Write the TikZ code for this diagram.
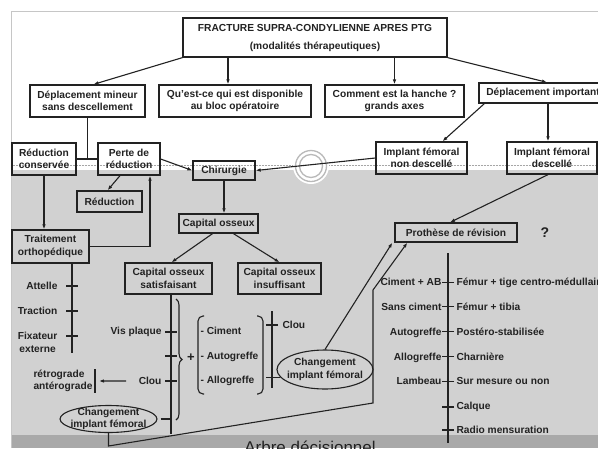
\documentclass[tikz,border=0pt]{standalone}
\usepackage{fontspec}
\setmainfont{Liberation Sans}
\usetikzlibrary{arrows.meta, shapes.geometric, decorations.pathreplacing}
\definecolor{ink}{HTML}{222222}
\definecolor{panel}{HTML}{D1D1D1}
\definecolor{band}{HTML}{A9A9A9}
\newcommand{\boxfont}{\fontsize{10.2}{12.4}\selectfont\bfseries}

\begin{document}
\begin{tikzpicture}[x=1pt, y=-1pt, line width=1.1pt, color=ink, >={Latex[length=5pt,width=3.6pt]},
	box/.style = {draw, line width=1.3pt, inner sep=0pt, align=center, font=\boxfont},
	oval/.style = {draw, ellipse, inner xsep=-6pt, inner ysep=-3pt, align=center, font=\boxfont},
	lab/.style = {inner sep=0pt, font=\boxfont}]
		\useasboundingbox (0,0) rectangle (598,448);
		% background
		\fill[white] (0,0) rectangle (598,448);
		\fill[panel] (11,170) rectangle (598,435);
		\fill[band] (11,435) rectangle (598,448);
		\draw[gray!45, line width=0.6pt] (11,448) -- (11,11) -- (598,11);
		\draw[gray!70, line width=0.5pt, densely dotted] (11,165) -- (598,165);
		\fill[white] (311,166) circle (18);
		\draw[gray!55, line width=1.3pt] (311,166) circle (15.5) (311,166) circle (11.5);
		\node[anchor=base, font=\fontsize{17}{17}\selectfont] (40) at (310,453) {Arbre décisionnel};
		
		% boxes
		\node[box, minimum width=264, minimum height=39] (1) at (315,37.5) {FRACTURE SUPRA-CONDYLIENNE APRES PTG\\[5.6pt](modalités thérapeutiques)};
		\node[box, minimum width=115, minimum height=32] (2) at (87.5,101) {Déplacement mineur\\sans descellement};
		\node[box, minimum width=152, minimum height=32] (3) at (235,101) {Qu'est-ce qui est disponible\\au bloc opératoire};
		\node[box, minimum width=139, minimum height=32] (4) at (394.5,101) {Comment est la hanche ?\\grands axes};
		\node[box, minimum width=128, minimum height=20] (5) at (543,93) {Déplacement important};
		\node[box, minimum width=64, minimum height=32] (6) at (44,159) {Réduction\\conservée};
		\node[box, minimum width=62, minimum height=32] (7) at (129,159) {Perte de\\réduction};
		\node[box, minimum width=65, minimum height=21] (8) at (109.5,201.5) {Réduction};
		\node[box, minimum width=62, minimum height=19] (9) at (224,170.5) {Chirurgie};
		\node[box, minimum width=91, minimum height=32] (10) at (421.5,158) {Implant fémoral\\non descellé};
		\node[box, minimum width=90, minimum height=32] (11) at (552,158) {Implant fémoral\\descellé};
		\node[box, minimum width=77, minimum height=33] (12) at (50.5,246.5) {Traitement\\orthopédique};
		\node[box, minimum width=79, minimum height=19] (13) at (218.5,223.5) {Capital osseux};
		\node[box, minimum width=87, minimum height=31] (14) at (168.5,278.5) {Capital osseux\\satisfaisant};
		\node[box, minimum width=83, minimum height=31] (15) at (279.5,278.5) {Capital osseux\\insuffisant};
		\node[box, minimum width=122, minimum height=19] (16) at (456,232.5) {Prothèse de révision};
		\node[font=\fontsize{14}{14}\selectfont\bfseries] (17) at (545,233) {?};
		\node[oval, minimum width=97, minimum height=27] (18) at (108.5,419) {Changement\\implant fémoral};
		\node[oval, minimum width=96, minimum height=39] (19) at (325,369.5) {Changement\\implant fémoral};
		
		\draw[->] (1.south west) -- ([xshift=6pt]2.north);
		\draw[->] ([xshift=-7pt]3.north |- 1.south) -- ([xshift=-7pt]3.north);
		\draw[->] (4.north |- 1.south) -- (4.north);
		\draw[->] (1.south east) -- ([xshift=4pt]5.north);
		\draw (2.south) -- (2.south |- 6.east);
		\draw (6.east) -- (7.west);
		\draw[->] (6.south) -- (6.south |- 12.north);
		\draw[->] (12.east) -| ([xshift=21pt]7.south);
		\draw[->] ([xshift=-9pt]7.south) -- ([xshift=-2pt]8.north);
		\draw[->] (7.east) -- (9.west);
		\draw[->] (10.west) -- (9.east);
		\draw[->] ([xshift=6pt]5.south west) -- ([xshift=21pt]10.north);
		\draw[->] ([xshift=-4pt]11.north |- 5.south) -- ([xshift=-4pt]11.north);
		\draw[->] ([xshift=-4pt]11.south) -- ([xshift=-6pt]16.north);
		\draw[->] (9.south) -- (9.south |- 13.north);
		\draw[->] ([xshift=-6pt]13.south) -- ([xshift=3pt]14.north);
		\draw[->] ([xshift=15pt]13.south) -- (15.north);
		
		% left scale
		\coordinate (a1) at (72,353);
		\draw (12.south -| a1) -- (a1);
		\node[lab, anchor=base east] (20) at (58,289.6) {Attelle};
		\node[lab, anchor=base east] (21) at (58,314.6) {Traction};
		\node[lab, anchor=east, align=center] (22) at (58,342.2) {Fixateur\\externe};
		\draw ([xshift=8pt]20.east) -- ++(12,0);
		\draw ([xshift=8pt]21.east) -- ++(12,0);
		\draw (66,336) -- (78,336);
		
		% middle scale
		\coordinate (m) at (171,434);
		\draw (14.south -| m) -- (m);
		\node[lab, anchor=base east] (23) at (162,334.6) {Vis plaque};
		\node[lab, anchor=base east] (24) at (162,384.6) {Clou};
		\draw ([xshift=3pt]23.east) -- ++(12,0);
		\draw (165,356) -- (177,356);
		\draw ([xshift=3pt]24.east) -- ++(12,0);
		\node[lab, anchor=east, align=left] (25) at (93,381) {rétrograde\\antérograde};
		\draw ([xshift=2pt]25.north east) -- ([xshift=2pt]25.south east);
		\draw[->] ([xshift=-12pt]24.west) -- ([xshift=6pt]25.east);
		\draw ([xshift=3pt]18.east) -- (18.east -| m);
		\draw[decorate, decoration={brace, amplitude=6pt}] (176,299) -- (176,420);
		\node[font=\fontsize{13}{13}\selectfont\bfseries] (26) at (191,358) {+};
		\draw[rounded corners=5pt] (204,316) -- (198,316) -- (198,394) -- (204,394);
		\draw[rounded corners=5pt] (257,316) -- (263,316) -- (263,394) -- (257,394);
		\node[lab, anchor=base west] (27) at (200,334.6) {- Ciment};
		\node[lab, anchor=base west] (28) at (200,359.6) {- Autogreffe};
		\node[lab, anchor=base west] (29) at (200,383.6) {- Allogreffe};
		\coordinate (c1) at (272,311);
		\coordinate (c2) at (272,388);
		\draw (c1) -- (c2);
		\node[lab, anchor=base west] (30) at (282,328.6) {Clou};
		\draw ([xshift=-4pt]30.west) -- ++(-12,0);
		\draw (19.190) -- ([xshift=-6pt]19.190 -| c1);
		
		% to revision
		\coordinate (k1) at (112,446);
		\coordinate (k2) at (373,403);
		\coordinate (k3) at (373,290);
		\draw[->] (19.north) -- ([xshift=-2pt]16.south west);
		\draw[->] (18.south) -- (18.south |- k1) -- (k2) -- (k3) -- ([xshift=13pt]16.south west);
		
		% right scale
		\coordinate (r1) at (448,253);
		\coordinate (r2) at (448,443);
		\draw (r1) -- (r2);
		\node[lab, anchor=base east] (31) at (442,285.6) {Ciment + AB};
		\node[lab, anchor=base east] (32) at (442,310.6) {Sans ciment};
		\node[lab, anchor=base east] (33) at (442,335.6) {Autogreffe};
		\node[lab, anchor=base east] (34) at (442,360.6) {Allogreffe};
		\node[lab, anchor=base east] (35) at (442,384.6) {Lambeau};
		\node[lab, anchor=base west] (41) at (456,285.6) {Fémur + tige centro-médullaire};
		\node[lab, anchor=base west] (42) at (456,310.6) {Fémur + tibia};
		\node[lab, anchor=base west] (43) at (456,335.6) {Postéro-stabilisée};
		\node[lab, anchor=base west] (44) at (456,360.6) {Charnière};
		\node[lab, anchor=base west] (45) at (456,384.6) {Sur mesure ou non};
		\node[lab, anchor=base west] (46) at (456,409.6) {Calque};
		\node[lab, anchor=base west] (47) at (456,433.6) {Radio mensuration};
		\draw ([xshift=-2pt]41.west) -- ++(-12,0);
		\draw ([xshift=-2pt]42.west) -- ++(-12,0);
		\draw ([xshift=-2pt]43.west) -- ++(-12,0);
		\draw ([xshift=-2pt]44.west) -- ++(-12,0);
		\draw ([xshift=-2pt]45.west) -- ++(-12,0);
		\draw ([xshift=-2pt]46.west) -- ++(-12,0);
		\draw ([xshift=-2pt]47.west) -- ++(-12,0);
	\end{tikzpicture}
\end{document}
